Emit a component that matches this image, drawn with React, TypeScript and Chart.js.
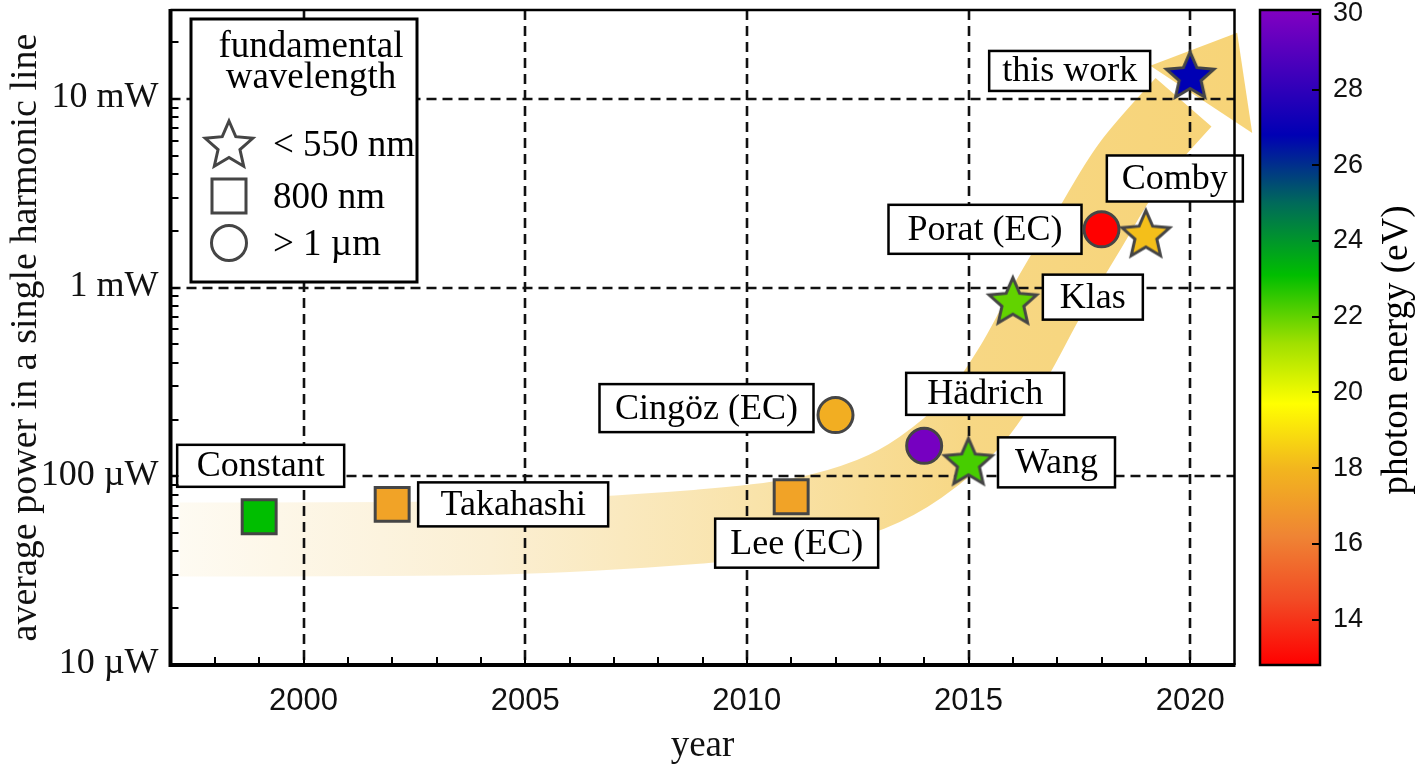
import React, { useEffect, useRef } from 'react';
import { Chart, registerables } from 'chart.js';

Chart.register(...registerables);

const SERIF = "'Liberation Serif', 'Times New Roman', serif";
const SANS = "'Liberation Sans', Arial, sans-serif";

// ---------- data ----------
const names = ['Constant', 'Takahashi', 'Lee (EC)', 'Cingöz (EC)', 'Hädrich', 'Wang', 'Klas', 'Porat (EC)', 'Comby', 'this work'];
const years = [1999, 2002, 2011, 2012, 2014, 2015, 2016, 2018, 2019, 2020];
const powersMicroW = [61, 71, 78, 211, 145, 120, 853, 2037, 1936, 13400];
const wavelengthClass = ['square', 'square', 'square', 'circle', 'circle', 'star', 'star', 'circle', 'star', 'star'];
const photonEnergy = [23.1, 17.3, 17.3, 17.7, 29.8, 22.3, 22.0, 12.8, 18.2, 26.8];

const xTicks = [2000, 2005, 2010, 2015, 2020];
const yTicks = [10, 100, 1000, 10000];
const yTickLabels = ['10 µW', '100 µW', '1 mW', '10 mW'];
const cbTicks = [14, 16, 18, 20, 22, 24, 26, 28, 30];

const xMin = 1997, xMax = 2021;
const yMin = 10, yMax = 29600;
const cbMin = 12.8, cbMax = 30.1;

// trend arrow centre line (year, µW) and arrow head (barb, tip, barb)
const arrowYears = [1997.21, 2004.46, 2008.96, 2011.22, 2012.79, 2013.92, 2015.05, 2015.97, 2016.8, 2017.7, 2018.62, 2019.85];
const arrowPowers = [46.2, 47.4, 54.2, 62.8, 80.2, 111.7, 189, 385, 873, 1986, 4457, 9600];
const arrowHeadYears = [2019.1, 2021.06, 2021.4];
const arrowHeadPowers = [15000, 22440, 6590];

const legendTitle = ['fundamental', 'wavelength'];
const legendClasses = ['star', 'square', 'circle'];
const legendTexts = ['< 550 nm', '800 nm', '> 1 µm'];

// colormap (photon energy eV -> colour)
const cmapEnergy = [12.8, 14.5, 16.2, 18.0, 19.7, 21.3, 23.1, 25.0, 26.8, 30.1];
const cmapColors = ['#ff0000', '#f24a24', '#ef8434', '#f2b61e', '#ffff00', '#a0e000', '#00be00', '#006a5a', '#0000b4', '#8200c2'];

// label layout: offset of box centre from marker (px) and box size
const labelLayout = [
  { dx: 1.5, dy: -51, w: 167, h: 42 },
  { dx: 121, dy: 0, w: 190, h: 44 },
  { dx: 5.5, dy: 46.5, w: 163, h: 49 },
  { dx: -129, dy: -7, w: 214, h: 48 },
  { dx: 61, dy: -52, w: 158, h: 42 },
  { dx: 88, dy: 1, w: 117, h: 50 },
  { dx: 80, dy: -3.5, w: 100, h: 45 },
  { dx: -116.5, dy: 0, w: 193, h: 49 },
  { dx: 29, dy: -55, w: 136, h: 46 },
  { dx: -120.5, dy: -4, w: 161, h: 40 },
];

const MARKER_EDGE = '#454545';

function hexToRgb(h: string) {
  const n = parseInt(h.slice(1), 16);
  return [(n >> 16) & 255, (n >> 8) & 255, n & 255];
}
function energyColor(e: number) {
  if (e <= cmapEnergy[0]) return cmapColors[0];
  for (let i = 0; i < cmapEnergy.length - 1; i++) {
    if (e <= cmapEnergy[i + 1]) {
      const t = (e - cmapEnergy[i]) / (cmapEnergy[i + 1] - cmapEnergy[i]);
      const a = hexToRgb(cmapColors[i]);
      const b = hexToRgb(cmapColors[i + 1]);
      const c = a.map((v, k) => Math.round(v + (b[k] - v) * t));
      return `rgb(${c[0]},${c[1]},${c[2]})`;
    }
  }
  return cmapColors[cmapColors.length - 1];
}

function starPath(ctx: CanvasRenderingContext2D, cx: number, cy: number, R: number, r: number) {
  ctx.beginPath();
  for (let i = 0; i < 10; i++) {
    const ang = -Math.PI / 2 + (i * Math.PI) / 5;
    const rad = i % 2 === 0 ? R : r;
    const px = cx + rad * Math.cos(ang);
    const py = cy + rad * Math.sin(ang);
    if (i === 0) ctx.moveTo(px, py);
    else ctx.lineTo(px, py);
  }
  ctx.closePath();
}

function makeStar(fill: string) {
  const c = document.createElement('canvas');
  c.width = 60;
  c.height = 60;
  const ctx = c.getContext('2d')!;
  starPath(ctx, 30, 32, 25, 11.5);
  ctx.fillStyle = fill;
  ctx.fill();
  ctx.lineWidth = 3;
  ctx.lineJoin = 'miter';
  ctx.strokeStyle = MARKER_EDGE;
  ctx.stroke();
  return c;
}

function drawSymbol(ctx: CanvasRenderingContext2D, cls: string, x: number, y: number, fill: string) {
  ctx.save();
  ctx.fillStyle = fill;
  ctx.strokeStyle = MARKER_EDGE;
  ctx.lineWidth = 3;
  if (cls === 'star') {
    starPath(ctx, x, y + 2, 25, 11.5);
  } else if (cls === 'square') {
    ctx.beginPath();
    ctx.rect(x - 17, y - 17, 34, 34);
  } else {
    ctx.beginPath();
    ctx.arc(x, y, 17.5, 0, Math.PI * 2);
  }
  ctx.fill();
  ctx.stroke();
  ctx.restore();
}

const zeroPad = (s: any) => {
  s.paddingTop = 0;
  s.paddingBottom = 0;
  s.paddingLeft = 0;
  s.paddingRight = 0;
};

const mainPlugin = {
  id: 'mainDecor',
  beforeDatasetsDraw(chart: any) {
    const { ctx, chartArea: ca, scales } = chart;
    const xs = scales.x, ys = scales.y;

    // ---- trend arrow ----
    const pts = arrowYears.map((yr, i) => ({ x: xs.getPixelForValue(yr), y: ys.getPixelForValue(arrowPowers[i]) }));
    const grad = ctx.createLinearGradient(ca.left, 0, ca.right, 0);
    grad.addColorStop(0, '#fefbf3');
    grad.addColorStop(0.3, '#fbefd3');
    grad.addColorStop(0.55, '#f9e3aa');
    grad.addColorStop(0.75, '#f7d784');
    grad.addColorStop(1, '#f7d478');
    ctx.save();
    ctx.strokeStyle = grad;
    ctx.fillStyle = grad;
    ctx.lineWidth = 74;
    ctx.lineCap = 'butt';
    ctx.lineJoin = 'round';
    ctx.beginPath();
    ctx.moveTo(pts[0].x, pts[0].y);
    for (let i = 0; i < pts.length - 1; i++) {
      const p0 = pts[i - 1] || pts[i];
      const p1 = pts[i];
      const p2 = pts[i + 1];
      const p3 = pts[i + 2] || p2;
      ctx.bezierCurveTo(
        p1.x + (p2.x - p0.x) / 6, p1.y + (p2.y - p0.y) / 6,
        p2.x - (p3.x - p1.x) / 6, p2.y - (p3.y - p1.y) / 6,
        p2.x, p2.y
      );
    }
    ctx.stroke();
    ctx.beginPath();
    arrowHeadYears.forEach((yr, i) => {
      const px = xs.getPixelForValue(yr);
      const py = ys.getPixelForValue(arrowHeadPowers[i]);
      if (i === 0) ctx.moveTo(px, py);
      else ctx.lineTo(px, py);
    });
    ctx.closePath();
    ctx.fill();
    ctx.restore();

    // ---- dashed grid ----
    ctx.save();
    ctx.strokeStyle = '#111';
    ctx.lineWidth = 2.6;
    ctx.setLineDash([10, 6]);
    xTicks.forEach((v) => {
      const px = Math.round(xs.getPixelForValue(v));
      ctx.beginPath();
      ctx.moveTo(px, ca.top);
      ctx.lineTo(px, ca.bottom);
      ctx.stroke();
    });
    yTicks.forEach((v) => {
      if (v <= yMin) return;
      const py = Math.round(ys.getPixelForValue(v));
      ctx.beginPath();
      ctx.moveTo(ca.left, py);
      ctx.lineTo(ca.right, py);
      ctx.stroke();
    });
    ctx.restore();

    // ---- label boxes ----
    ctx.save();
    ctx.font = `36px ${SERIF}`;
    ctx.textAlign = 'center';
    ctx.textBaseline = 'middle';
    names.forEach((name, i) => {
      const L = labelLayout[i];
      const cx = xs.getPixelForValue(years[i]) + L.dx;
      const cy = ys.getPixelForValue(powersMicroW[i]) + L.dy;
      ctx.fillStyle = '#fff';
      ctx.fillRect(cx - L.w / 2, cy - L.h / 2, L.w, L.h);
      ctx.strokeStyle = '#000';
      ctx.lineWidth = 2.5;
      ctx.strokeRect(cx - L.w / 2, cy - L.h / 2, L.w, L.h);
      ctx.fillStyle = '#000';
      ctx.fillText(name, cx, cy + 1);
    });
    ctx.restore();
  },
  afterDatasetsDraw(chart: any) {
    const { ctx, chartArea: ca, scales } = chart;
    const xs = scales.x, ys = scales.y;
    ctx.save();
    // minor / major inward ticks
    ctx.strokeStyle = '#000';
    ctx.lineWidth = 2;
    for (let yr = xMin + 1; yr < xMax; yr++) {
      const px = Math.round(xs.getPixelForValue(yr));
      ctx.beginPath();
      ctx.moveTo(px, ca.bottom);
      ctx.lineTo(px, ca.bottom - 8);
      ctx.stroke();
    }
    for (const d of yTicks) {
      for (let m = 1; m <= 9; m++) {
        const v = d * m;
        if (v <= yMin || v >= yMax) continue;
        const py = Math.round(ys.getPixelForValue(v));
        ctx.beginPath();
        ctx.moveTo(ca.left, py);
        ctx.lineTo(ca.left + 8, py);
        ctx.stroke();
      }
    }
    // frame
    ctx.lineWidth = 2.5;
    ctx.beginPath();
    ctx.moveTo(ca.left, ca.top);
    ctx.lineTo(ca.right, ca.top);
    ctx.lineTo(ca.right, ca.bottom);
    ctx.stroke();
    ctx.lineWidth = 4;
    ctx.beginPath();
    ctx.moveTo(ca.left, ca.top - 1);
    ctx.lineTo(ca.left, ca.bottom);
    ctx.lineTo(ca.right + 1, ca.bottom);
    ctx.stroke();

    // legend box
    const bx = ca.left + 20.5, by = ca.top + 9, bw = 226, bh = 263;
    ctx.fillStyle = '#fff';
    ctx.fillRect(bx, by, bw, bh);
    ctx.lineWidth = 3;
    ctx.strokeStyle = '#000';
    ctx.strokeRect(bx, by, bw, bh);
    ctx.fillStyle = '#000';
    ctx.font = `37px ${SERIF}`;
    ctx.textAlign = 'center';
    ctx.textBaseline = 'alphabetic';
    ctx.fillText(legendTitle[0], bx + 120, by + 38);
    ctx.fillText(legendTitle[1], bx + 120, by + 69);
    const rowY = [by + 125, by + 177, by + 224];
    legendClasses.forEach((cls, i) => {
      drawSymbol(ctx, cls, bx + 38, rowY[i], '#fff');
      ctx.fillStyle = '#000';
      ctx.textAlign = 'left';
      ctx.textBaseline = 'middle';
      ctx.fillText(legendTexts[i], bx + 82, rowY[i] + 2);
    });
    ctx.restore();
  },
};

const cbPlugin = {
  id: 'colorbar',
  afterDraw(chart: any) {
    const { ctx, chartArea: ca, scales } = chart;
    const ys = scales.y;
    ctx.save();
    const g = ctx.createLinearGradient(0, ys.getPixelForValue(cbMin), 0, ys.getPixelForValue(cbMax));
    cmapEnergy.forEach((e, i) => g.addColorStop(Math.min(1, Math.max(0, (e - cbMin) / (cbMax - cbMin))), cmapColors[i]));
    ctx.fillStyle = g;
    ctx.fillRect(ca.left, ca.top, ca.right - ca.left, ca.bottom - ca.top);
    ctx.strokeStyle = '#000';
    ctx.lineWidth = 2;
    cbTicks.forEach((v) => {
      const py = Math.round(ys.getPixelForValue(v));
      ctx.beginPath();
      ctx.moveTo(ca.right, py);
      ctx.lineTo(ca.right - 8, py);
      ctx.stroke();
    });
    ctx.lineWidth = 2.5;
    ctx.strokeRect(ca.left, ca.top, ca.right - ca.left, ca.bottom - ca.top);
    // title
    ctx.translate(139, 350);
    ctx.rotate(-Math.PI / 2);
    ctx.fillStyle = '#000';
    ctx.font = `37px ${SERIF}`;
    ctx.textAlign = 'center';
    ctx.textBaseline = 'middle';
    ctx.fillText('photon energy (eV)', 0, 0);
    ctx.restore();
  },
};

export default function App() {
  const mainRef = useRef<HTMLCanvasElement>(null);
  const cbRef = useRef<HTMLCanvasElement>(null);

  useEffect(() => {
    const ids = (cls: string) => names.map((_, i) => i).filter((i) => wavelengthClass[i] === cls);
    const starIdx = ids('star');
    const circleIdx = ids('circle');
    const squareIdx = ids('square');
    const pt = (i: number) => ({ x: years[i], y: powersMicroW[i] });

    const main = new Chart(mainRef.current!, {
      type: 'scatter',
      data: {
        datasets: [
          {
            label: '< 550 nm',
            data: starIdx.map(pt),
            pointStyle: starIdx.map((i) => makeStar(energyColor(photonEnergy[i]))) as any,
            pointRadius: 26,
          },
          {
            label: '> 1 µm',
            data: circleIdx.map(pt),
            pointStyle: 'circle',
            pointRadius: 17.5,
            pointBackgroundColor: circleIdx.map((i) => energyColor(photonEnergy[i])),
            pointBorderColor: MARKER_EDGE,
            pointBorderWidth: 3,
          },
          {
            label: '800 nm',
            data: squareIdx.map(pt),
            pointStyle: 'rect',
            pointRadius: 24,
            pointBackgroundColor: squareIdx.map((i) => energyColor(photonEnergy[i])),
            pointBorderColor: MARKER_EDGE,
            pointBorderWidth: 3,
          },
        ],
      } as any,
      options: {
        responsive: false,
        animation: false,
        devicePixelRatio: 1,
        events: [],
        layout: { autoPadding: false, padding: { top: 10, right: 23.5, left: 0, bottom: 0 } },
        plugins: { legend: { display: false }, tooltip: { enabled: false } },
        scales: {
          x: {
            type: 'linear',
            min: xMin,
            max: xMax,
            grid: { display: false, drawTicks: false },
            border: { display: false },
            afterBuildTicks: (s: any) => { s.ticks = xTicks.map((v) => ({ value: v })); },
            afterFit: (s: any) => { s.height = 103; zeroPad(s); },
            ticks: {
              font: { family: SANS, size: 31 },
              color: '#111',
              padding: 18,
              maxRotation: 0,
              autoSkip: false,
              callback: (v: any) => String(v),
            },
            title: { display: true, text: 'year', font: { family: SERIF, size: 37 }, color: '#111', padding: { top: 0, bottom: 0 } },
          },
          y: {
            type: 'logarithmic',
            min: yMin,
            max: yMax,
            grid: { display: false, drawTicks: false },
            border: { display: false },
            afterBuildTicks: (s: any) => { s.ticks = yTicks.map((v) => ({ value: v })); },
            afterFit: (s: any) => { s.width = 170.5; zeroPad(s); },
            ticks: {
              font: { family: SERIF, size: 36 },
              color: '#111',
              padding: 12,
              labelOffset: -1,
              autoSkip: false,
              callback: (v: any) => {
                const k = yTicks.indexOf(Number(v));
                return k >= 0 ? yTickLabels[k] : '';
              },
            },
            title: { display: true, text: 'average power in a single harmonic line', font: { family: SERIF, size: 38 }, color: '#111', padding: { top: 3, bottom: 0 } },
          },
        },
      } as any,
      plugins: [mainPlugin],
    });

    const cb = new Chart(cbRef.current!, {
      type: 'scatter',
      data: { datasets: [] },
      options: {
        responsive: false,
        animation: false,
        devicePixelRatio: 1,
        events: [],
        layout: { autoPadding: false, padding: { top: 10, right: 0, left: 2, bottom: 103 } },
        plugins: { legend: { display: false }, tooltip: { enabled: false } },
        scales: {
          x: { type: 'linear', display: false, min: 0, max: 1 },
          y: {
            type: 'linear',
            position: 'right',
            min: cbMin,
            max: cbMax,
            grid: { display: false, drawTicks: false },
            border: { display: false },
            afterBuildTicks: (s: any) => { s.ticks = cbTicks.map((v) => ({ value: v })); },
            afterFit: (s: any) => { s.width = 98; zeroPad(s); },
            ticks: { font: { family: SANS, size: 27 }, color: '#111', padding: 13, autoSkip: false },
          },
        },
      } as any,
      plugins: [cbPlugin],
    });

    return () => {
      main.destroy();
      cb.destroy();
    };
  }, []);

  return (
    <div style={{ position: 'fixed', left: 0, top: 0, width: 1418, height: 768, background: '#fff' }}>
      <canvas ref={mainRef} width={1258} height={768} style={{ position: 'absolute', left: 0, top: 0 }} />
      <canvas ref={cbRef} width={160} height={768} style={{ position: 'absolute', left: 1258, top: 0 }} />
    </div>
  );
}
